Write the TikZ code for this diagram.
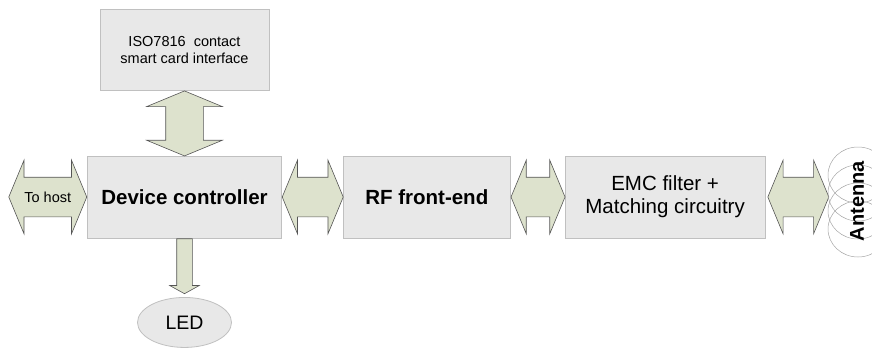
\documentclass[tikz,border=0pt]{standalone}
\usepackage{fontspec}
\setmainfont{Liberation Sans}
\usetikzlibrary{shapes.geometric, shapes.arrows, positioning}
\definecolor{boxfill}{HTML}{E8E8E8}
\definecolor{boxline}{HTML}{C0C0C0}
\definecolor{arrowfill}{HTML}{DDE2CD}
\definecolor{arrowline}{HTML}{555555}
\tikzstyle{block} = [rectangle, minimum height=82pt, text centered, align=center, inner sep=0pt, draw=boxline, fill=boxfill, line width=0.8pt]
\tikzstyle{dblarrow} = [double arrow, inner xsep=0pt, inner ysep=19.5pt, minimum width=73pt, double arrow head extend=17pt, double arrow tip angle=135, draw=arrowline, fill=arrowfill, line width=0.6pt]
\tikzstyle{coil} = [ellipse, minimum width=60pt, minimum height=56pt, inner sep=0pt, draw=gray!70, line width=0.5pt]
\newcommand{\bigtxt}{\fontsize{20.5}{23}\selectfont}
\newcommand{\smalltxt}{\fontsize{14.5}{17}\selectfont}

\begin{document}
\begin{tikzpicture}[x=1pt, y=-1pt]
		\useasboundingbox (0,0) rectangle (872,356);
		\node (dev) [block, minimum width=194pt, font=\bigtxt\bfseries] at (184.5,197) {Device controller};
		\node (rf) [block, right=61pt of dev, minimum width=167pt, font=\bigtxt\bfseries] {RF front-end};
		\node (emc) [block, right=54pt of rf, minimum width=200pt, font=\bigtxt] {
			EMC filter +\\
			Matching circuitry
		};
		\node (iso) [block, above=65pt of dev, minimum width=169pt, minimum height=81pt, font=\smalltxt] {
			ISO7816~~contact\\
			smart card interface
		};
		\node (host) [dblarrow, left=0pt of dev, minimum height=78pt, inner ysep=0pt, text height=24.5pt, text depth=14.5pt, font=\smalltxt] {To host};
		\node (a1) [dblarrow, right=0pt of dev, minimum height=61pt] {};
		\node (a2) [dblarrow, right=0pt of rf, minimum height=54pt] {};
		\node (a3) [dblarrow, right=2pt of emc, minimum height=61pt] {};
		\node (a0) [dblarrow, below=0pt of iso, shape border rotate=90, inner xsep=18.5pt, inner ysep=0pt, minimum height=65pt, minimum width=75pt, double arrow head extend=19pt] {};
		\node (down) [single arrow, below=0pt of dev, shape border rotate=270, inner xsep=7.5pt, inner ysep=0pt, minimum height=55pt, minimum width=29pt, single arrow head extend=7pt, single arrow tip angle=122, draw=arrowline, fill=arrowfill, line width=0.6pt] {};
		\node (led) [ellipse, below=3pt of down, minimum width=94pt, minimum height=50pt, inner sep=0pt, draw=boxline, fill=boxfill, line width=0.8pt, font=\fontsize{19.5}{22}\selectfont] {LED};
		% antenna loops
		\foreach \i in {0,...,3}
			\node (coil\i) [coil] at (858,{175+18*\i}) {};
		\node (ant) [rotate=90, font=\fontsize{20}{22}\selectfont\bfseries] at (857,201) {Antenna};
	\end{tikzpicture}
\end{document}
